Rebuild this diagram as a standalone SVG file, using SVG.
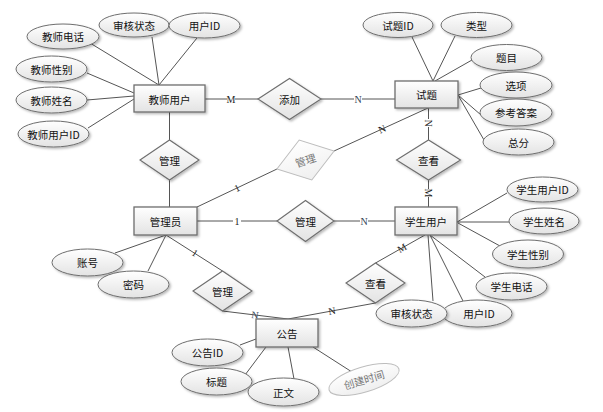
<svg xmlns="http://www.w3.org/2000/svg" width="603" height="412" viewBox="0 0 603 412">
<defs>
<linearGradient id="g" x1="0" y1="0" x2="0" y2="1">
<stop offset="0" stop-color="#ffffff"/>
<stop offset="1" stop-color="#e3e3e3"/>
</linearGradient>
<linearGradient id="gl" x1="0" y1="0" x2="0" y2="1">
<stop offset="0" stop-color="#ffffff"/>
<stop offset="1" stop-color="#efefef"/>
</linearGradient>
<filter id="sh" x="-20%" y="-20%" width="150%" height="160%">
<feDropShadow dx="1.5" dy="1.5" stdDeviation="1.2" flood-color="#000" flood-opacity="0.28"/>
</filter>
</defs>
<style>
.ent{fill:url(#g);stroke:#6e6e6e;stroke-width:1.3;filter:url(#sh)}
.rel{fill:url(#g);stroke:#6e6e6e;stroke-width:1.1;filter:url(#sh)}
.att{fill:url(#g);stroke:#6e6e6e;stroke-width:1;filter:url(#sh)}
.ghost{fill:url(#gl);stroke:#bdbdbd;stroke-width:1}
.t{font-family:"Noto Sans CJK SC","Liberation Sans",sans-serif;font-size:10.5px;fill:#111;text-anchor:middle;dominant-baseline:central}
.tg{font-family:"Noto Sans CJK SC","Liberation Sans",sans-serif;font-size:10.5px;fill:#777;text-anchor:middle;dominant-baseline:central}
.c line,.c path{stroke:#555;stroke-width:1;fill:none}
.lb{font-family:"Liberation Serif",serif;font-size:10px;fill:#222;text-anchor:middle;dominant-baseline:central}
.lbb{font-family:"Liberation Serif",serif;font-size:10px;fill:#345;text-anchor:middle;dominant-baseline:central}
</style>
<rect width="603" height="412" fill="#ffffff"/>

<g id="connectors" class="c">
<line x1="205" y1="99" x2="258" y2="99"/>
<line x1="321" y1="99" x2="395" y2="99"/>
<line x1="169.5" y1="112" x2="169.5" y2="140"/>
<line x1="169.5" y1="180" x2="169.5" y2="207"/>
<line x1="428.5" y1="108" x2="428.5" y2="140"/>
<line x1="428.5" y1="180" x2="428.5" y2="207"/>
<line x1="428" y1="108" x2="334" y2="151"/>
<line x1="277" y1="169" x2="197" y2="207"/>
<line x1="197" y1="221" x2="277" y2="221"/>
<line x1="334" y1="221" x2="395" y2="221"/>
<line x1="166" y1="235" x2="222.5" y2="271"/>
<line x1="222.5" y1="311" x2="288" y2="319"/>
<line x1="425" y1="235" x2="375.5" y2="263"/>
<line x1="375.5" y1="303" x2="288" y2="319"/>
<!-- attribute lines -->
<line x1="152" y1="37" x2="159" y2="85"/>
<line x1="197" y1="38" x2="159" y2="85"/>
<line x1="90" y1="43" x2="159" y2="85"/>
<line x1="87" y1="73" x2="134" y2="93"/>
<line x1="87" y1="100" x2="134" y2="96"/>
<line x1="88" y1="128" x2="134" y2="99"/>
<line x1="412" y1="37" x2="433" y2="81"/>
<line x1="455" y1="36" x2="433" y2="81"/>
<line x1="472" y1="60" x2="435" y2="81"/>
<line x1="458" y1="95" x2="481" y2="88"/>
<line x1="458" y1="95" x2="481" y2="115"/>
<line x1="458" y1="95" x2="484" y2="140"/>
<line x1="115" y1="253" x2="166" y2="235"/>
<line x1="148" y1="271" x2="166" y2="235"/>
<line x1="457" y1="222" x2="507" y2="193"/>
<line x1="457" y1="222" x2="509" y2="222"/>
<line x1="458" y1="223" x2="500" y2="246"/>
<line x1="430" y1="235" x2="485" y2="277"/>
<line x1="428" y1="235" x2="433" y2="301"/>
<line x1="430" y1="235" x2="463" y2="301"/>
<line x1="240" y1="345" x2="256" y2="339"/>
<line x1="245" y1="375" x2="266" y2="347"/>
<line x1="294" y1="379" x2="288" y2="347"/>
<line x1="352" y1="372" x2="313" y2="347"/>
<!-- cardinality labels -->
<g>
<rect x="227" y="93" width="8" height="12" fill="#fff"/>
<text class="lb" x="231" y="99">M</text>
<rect x="354" y="93" width="8" height="12" fill="#fff"/>
<text class="lbb" x="358" y="99">N</text>
<rect x="422.5" y="119" width="12" height="8" fill="#fff"/>
<text class="lb" transform="translate(428.5,123) rotate(90)">N</text>
<rect x="422.5" y="189" width="12" height="8" fill="#fff"/>
<text class="lb" transform="translate(428.5,193) rotate(90)">M</text>
<text class="lb" transform="translate(382,129) rotate(-24.6)">N</text>
<text class="lb" transform="translate(237,188) rotate(-25)">1</text>
<rect x="233" y="215" width="8" height="12" fill="#fff"/>
<text class="lb" x="237" y="221">1</text>
<rect x="360" y="215" width="8" height="12" fill="#fff"/>
<text class="lbb" x="364" y="221">N</text>
<text class="lb" transform="translate(195,253) rotate(32.5)">1</text>
<text class="lbb" transform="translate(255,315) rotate(7)">N</text>
<text class="lb" transform="translate(402,248) rotate(-29.5)">M</text>
<text class="lb" transform="translate(332,311) rotate(-10)">N</text>
</g>
</g>

<!-- entities -->
<g id="teacher"><rect class="ent" x="134" y="85" width="71" height="27"/><text class="t" x="169.5" y="99">教师用户</text></g>
<g id="question"><rect class="ent" x="395" y="81" width="63" height="27"/><text class="t" x="426.5" y="94.5">试题</text></g>
<g id="admin"><rect class="ent" x="134" y="207" width="63" height="28"/><text class="t" x="165.5" y="221">管理员</text></g>
<g id="student"><rect class="ent" x="395" y="207" width="62" height="28"/><text class="t" x="426" y="221">学生用户</text></g>
<g id="notice"><rect class="ent" x="256" y="319" width="62" height="28"/><text class="t" x="287" y="333">公告</text></g>

<!-- relationships -->
<g id="r-add"><polygon class="rel" points="258,99 289.5,78.5 321,99 289.5,119.5"/><text class="t" x="289.5" y="99">添加</text></g>
<g id="r-manage-teacher"><polygon class="rel" points="140,160 169.5,140 199,160 169.5,180"/><text class="t" x="169.5" y="160">管理</text></g>
<g id="r-view-question"><polygon class="rel" points="396.5,160 428.5,140 460.5,160 428.5,180"/><text class="t" x="428.5" y="160">查看</text></g>
<g id="r-manage-question"><g transform="translate(305.5,160) rotate(-17.5)"><polygon class="ghost" points="-30,0 0,-21 30,0 0,21"/><text class="tg" x="0" y="0">管理</text></g></g>
<g id="r-manage-student"><polygon class="rel" points="277,221 305.5,200.5 334,221 305.5,241.5"/><text class="t" x="305.5" y="221">管理</text></g>
<g id="r-manage-notice"><polygon class="rel" points="193,291 222.5,271 252,291 222.5,311"/><text class="t" x="222.5" y="291">管理</text></g>
<g id="r-view-notice"><polygon class="rel" points="346,283 375.5,263 405,283 375.5,303"/><text class="t" x="375.5" y="283">查看</text></g>

<!-- teacher attributes -->
<g id="a-t-status"><ellipse class="att" cx="134" cy="25" rx="35" ry="12"/><text class="t" x="134" y="25">审核状态</text></g>
<g id="a-t-uid"><ellipse class="att" cx="204.5" cy="25.5" rx="35.5" ry="12.5"/><text class="t" x="204.5" y="25.5">用户ID</text></g>
<g id="a-t-phone"><ellipse class="att" cx="63" cy="36.5" rx="36" ry="12.5"/><text class="t" x="63" y="36.5">教师电话</text></g>
<g id="a-t-sex"><ellipse class="att" cx="51.5" cy="69" rx="35.5" ry="13"/><text class="t" x="51.5" y="69">教师性别</text></g>
<g id="a-t-name"><ellipse class="att" cx="51.5" cy="100" rx="35.5" ry="13"/><text class="t" x="51.5" y="100">教师姓名</text></g>
<g id="a-t-id"><ellipse class="att" cx="53.5" cy="134" rx="35.5" ry="13"/><text class="t" x="53.5" y="134">教师用户ID</text></g>

<!-- question attributes -->
<g id="a-q-id"><ellipse class="att" cx="398" cy="25" rx="35" ry="12.5"/><text class="t" x="398" y="25">试题ID</text></g>
<g id="a-q-type"><ellipse class="att" cx="476.5" cy="25" rx="35.5" ry="12.5"/><text class="t" x="476.5" y="25">类型</text></g>
<g id="a-q-title"><ellipse class="att" cx="506.5" cy="57.5" rx="35.5" ry="13"/><text class="t" x="506.5" y="57.5">题目</text></g>
<g id="a-q-opt"><ellipse class="att" cx="516" cy="85" rx="36" ry="13"/><text class="t" x="516" y="85">选项</text></g>
<g id="a-q-ans"><ellipse class="att" cx="516" cy="112.5" rx="36" ry="13.5"/><text class="t" x="516" y="112.5">参考答案</text></g>
<g id="a-q-score"><ellipse class="att" cx="518.5" cy="142" rx="35.5" ry="13"/><text class="t" x="518.5" y="142">总分</text></g>

<!-- admin attributes -->
<g id="a-a-acc"><ellipse class="att" cx="87.5" cy="262.5" rx="35.5" ry="13.5"/><text class="t" x="87.5" y="262.5">账号</text></g>
<g id="a-a-pwd"><ellipse class="att" cx="133.5" cy="284.5" rx="35.5" ry="13.5"/><text class="t" x="133.5" y="284.5">密码</text></g>

<!-- student attributes -->
<g id="a-s-id"><ellipse class="att" cx="542.5" cy="189.5" rx="35.5" ry="12.5"/><text class="t" x="542.5" y="189.5">学生用户ID</text></g>
<g id="a-s-name"><ellipse class="att" cx="544" cy="221" rx="35" ry="13"/><text class="t" x="544" y="221">学生姓名</text></g>
<g id="a-s-sex"><ellipse class="att" cx="528" cy="254" rx="35.5" ry="14"/><text class="t" x="528" y="254">学生性别</text></g>
<g id="a-s-phone"><ellipse class="att" cx="511.5" cy="286.5" rx="35.5" ry="13.5"/><text class="t" x="511.5" y="286.5">学生电话</text></g>
<g id="a-s-uid"><ellipse class="att" cx="477" cy="313.5" rx="35" ry="13.5"/><text class="t" x="479" y="313.5">用户ID</text></g>
<g id="a-s-status"><ellipse class="att" cx="411.5" cy="313.5" rx="35.5" ry="13.5"/><text class="t" x="411.5" y="313.5">审核状态</text></g>

<!-- notice attributes -->
<g id="a-n-id"><ellipse class="att" cx="207.5" cy="352.5" rx="35.5" ry="13.5"/><text class="t" x="207.5" y="352.5">公告ID</text></g>
<g id="a-n-title"><ellipse class="att" cx="216.5" cy="381.5" rx="35.5" ry="13.5"/><text class="t" x="216.5" y="381.5">标题</text></g>
<g id="a-n-body"><ellipse class="att" cx="283.5" cy="392" rx="35.5" ry="14"/><text class="t" x="283.5" y="392">正文</text></g>
<g id="a-n-time"><g transform="translate(364,379.5) rotate(-16.7)"><ellipse class="ghost" cx="0" cy="0" rx="36.5" ry="12.5"/><text class="tg" x="0" y="0">创建时间</text></g></g>
</svg>
